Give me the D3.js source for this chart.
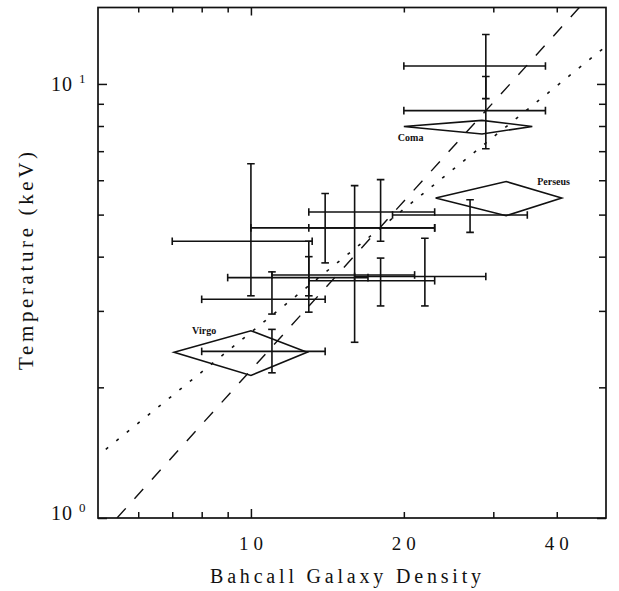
<!DOCTYPE html>
<html><head><meta charset="utf-8">
<script src="https://cdn.jsdelivr.net/npm/d3@7/dist/d3.min.js"></script>
<style>body{margin:0;background:#fff}svg{display:block}</style>
</head><body>
<svg id="c" width="619" height="591"></svg>
<script>
// ---- data ----
const xMinorTicks = [6, 7, 8, 9, 20, 30, 40];
const xMajorTicks = [10];
const xTickLabels = ["10", "20", "40"];
const xTickLabelValues = [10, 20, 40];
const yMinorTicks = [2, 3, 4, 5, 6, 7, 8, 9];
const yMajorTicks = [1, 10];
const yTickBase = ["10", "10"];
const yTickExp = ["0", "1"];

// galaxy clusters with error bars (Bahcall density, temperature keV)
const density   = [29, 29, 10, 18, 14, 27, 16, 13, 11, 18, 22, 13, 11];
const densityLo = [20, 20, 7.0, 13, 10, 19, 13, 9.0, 8.0, 13, 16, 11, 8.0];
const densityHi = [38, 38, 13.2, 23, 23, 35, 23, 17, 14.0, 23, 29, 21, 14.0];
const temp      = [11.0, 8.68, 4.34, 5.07, 4.66, 4.99, 4.66, 3.58, 3.19, 3.52, 3.60, 3.63, 2.42];
const tempLo    = [9.25, 7.09, 3.25, 4.34, 3.87, 4.55, 2.54, 2.98, 2.95, 3.08, 3.08, 3.25, 2.16];
const tempHi    = [13.0, 10.4, 6.55, 6.02, 5.59, 5.41, 5.83, 4.34, 3.69, 3.97, 4.41, 4.0, 2.72];

// named clusters drawn as diamonds
const clusterNames = ["Coma", "Perseus", "Virgo"];
const clusterN   = [28.5, 31.8, 10.0];
const clusterNLo = [20.0, 23.1, 7.06];
const clusterNHi = [35.8, 40.9, 12.9];
const clusterT   = [7.98, 5.46, 2.41];
const clusterTLo = [7.67, 4.97, 2.13];
const clusterTHi = [8.24, 5.96, 2.70];

// fitted relations (end points)
const dashedN = [5.45, 44.3];
const dashedT = [1.0, 15.0];
const dottedN = [5.18, 49.5];
const dottedT = [1.44, 12.1];

// ---- drawing ----
const L = 98, R = 606, T = 7.5, B = 518;
const svg = d3.select("#c");
const x = d3.scaleLog().domain([5, 50]).range([L, R]);
const y = d3.scaleLog().domain([1, 15]).range([B, T]);
const ink = "#111";
const font = "'Liberation Serif', 'DejaVu Serif', serif";

svg.append("defs").append("clipPath").attr("id", "clip")
  .append("rect").attr("x", L).attr("y", T).attr("width", R - L).attr("height", B - T);

// ticks via axes (inward)
function axisTicks(gen, vals, len, transform) {
  const g = svg.append("g").attr("transform", transform)
    .call(gen.tickValues(vals).tickSize(-len).tickFormat(""));
  g.select(".domain").remove();
  g.selectAll("line").attr("stroke", ink).attr("stroke-width", 1.5);
}
axisTicks(d3.axisBottom(x), xMinorTicks, 6, `translate(0,${B})`);
axisTicks(d3.axisBottom(x), xMajorTicks, 9, `translate(0,${B})`);
axisTicks(d3.axisTop(x), xMinorTicks, 5, `translate(0,${T})`);
axisTicks(d3.axisTop(x), xMajorTicks, 8, `translate(0,${T})`);
axisTicks(d3.axisLeft(y), yMinorTicks, 6, `translate(${L},0)`);
axisTicks(d3.axisLeft(y), yMajorTicks, 9, `translate(${L},0)`);
axisTicks(d3.axisRight(y), yMinorTicks, 7, `translate(${R},0)`);
axisTicks(d3.axisRight(y), yMajorTicks, 9, `translate(${R},0)`);

// frame
svg.append("rect").attr("x", L).attr("y", T).attr("width", R - L).attr("height", B - T)
  .attr("fill", "none").attr("stroke", ink).attr("stroke-width", 1.7);

// tick labels
svg.selectAll(".xl").data(xTickLabelValues).enter().append("text")
  .attr("x", d => x(d)).attr("y", 550)
  .attr("text-anchor", "middle").attr("font-family", font).attr("font-size", 19)
  .attr("textLength", 24).attr("lengthAdjust", "spacing")
  .attr("fill", ink).text((d, i) => xTickLabels[i]);

yMajorTicks.forEach((v, i) => {
  const base = y(v) + (i === 0 ? 2 : 7.5);
  svg.append("text").attr("x", 51).attr("y", base)
    .attr("font-family", font).attr("font-size", 20).attr("fill", ink)
    .attr("textLength", 21).attr("lengthAdjust", "spacing").text(yTickBase[i]);
  svg.append("text").attr("x", 79).attr("y", base - 8)
    .attr("font-family", font).attr("font-size", 13).attr("fill", ink).text(yTickExp[i]);
});

// axis titles
svg.append("text").attr("x", 210).attr("y", 583)
  .attr("font-family", font).attr("font-size", 20)
  .attr("textLength", 271).attr("lengthAdjust", "spacing")
  .attr("fill", ink).text("Bahcall Galaxy Density");
svg.append("text").attr("transform", "translate(33,370) rotate(-90)")
  .attr("font-family", font).attr("font-size", 21)
  .attr("textLength", 218).attr("lengthAdjust", "spacing")
  .attr("fill", ink).text("Temperature (keV)");

const plot = svg.append("g").attr("clip-path", "url(#clip)");

// fit lines
const line = d3.line().x(d => x(d[0])).y(d => y(d[1]));
plot.append("path").attr("d", line(dashedN.map((n, i) => [n, dashedT[i]])))
  .attr("fill", "none").attr("stroke", ink).attr("stroke-width", 1.4)
  .attr("stroke-dasharray", "13,13");
plot.append("path").attr("d", line(dottedN.map((n, i) => [n, dottedT[i]])))
  .attr("fill", "none").attr("stroke", ink).attr("stroke-width", 1.6)
  .attr("stroke-dasharray", "3,10.5");

// error bars
const cap = 3.8;
const eb = plot.selectAll(".eb").data(density.map((d, i) => i)).enter().append("g")
  .attr("stroke", ink).attr("stroke-width", 1.6);
eb.append("line").attr("x1", i => x(densityLo[i])).attr("x2", i => x(densityHi[i]))
  .attr("y1", i => y(temp[i])).attr("y2", i => y(temp[i]));
eb.append("line").attr("x1", i => x(density[i])).attr("x2", i => x(density[i]))
  .attr("y1", i => y(tempLo[i])).attr("y2", i => y(tempHi[i]));
[densityLo, densityHi].forEach(arr => {
  eb.append("line").attr("x1", i => x(arr[i])).attr("x2", i => x(arr[i]))
    .attr("y1", i => y(temp[i]) - cap).attr("y2", i => y(temp[i]) + cap);
});
[tempLo, tempHi].forEach(arr => {
  eb.append("line").attr("x1", i => x(density[i]) - cap).attr("x2", i => x(density[i]) + cap)
    .attr("y1", i => y(arr[i])).attr("y2", i => y(arr[i]));
});

// diamonds
const dia = clusterNames.map((name, i) => ({
  name,
  pts: [[clusterNLo[i], clusterT[i]], [clusterN[i], clusterTHi[i]],
        [clusterNHi[i], clusterT[i]], [clusterN[i], clusterTLo[i]]]
}));
plot.selectAll(".dia").data(dia).enter().append("path")
  .attr("d", d => line(d.pts) + "Z")
  .attr("fill", "none").attr("stroke", ink).attr("stroke-width", 1.6);

// cluster labels
const labelFont = "'Liberation Serif', 'DejaVu Serif', serif";
const labelPos = {
  Coma:    i => [x(clusterNLo[i]) - 6, y(clusterT[i]) + 15],
  Perseus: i => [x(clusterN[i]) + 31, y(clusterTHi[i]) + 4],
  Virgo:   i => [x(clusterNLo[i]) + 18, y(clusterTHi[i]) + 3]
};
clusterNames.forEach((name, i) => {
  const p = labelPos[name](i);
  svg.append("text").attr("x", p[0]).attr("y", p[1])
    .attr("font-family", labelFont).attr("font-weight", "bold").attr("font-size", 10)
    .attr("fill", ink).text(name);
});
</script>
</body></html>
